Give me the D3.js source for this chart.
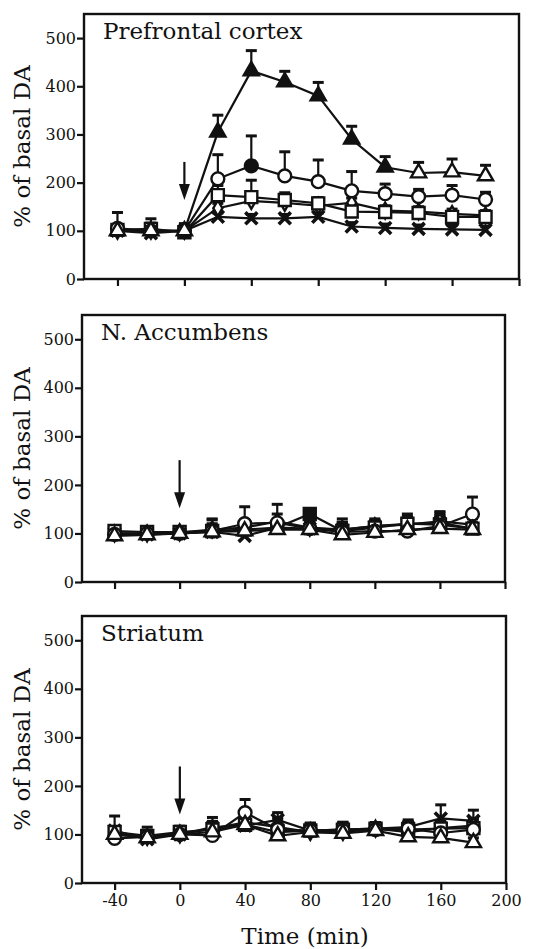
<!DOCTYPE html>
<html>
<head>
<meta charset="utf-8">
<script src="https://cdn.jsdelivr.net/npm/d3@7"></script>
<style>
  body { margin: 0; background: #fff; }
  svg text { font-family: "DejaVu Serif", serif; fill: #111; }
</style>
</head>
<body>
<script>
// sampling times (min) and axis ticks
var times = [-40, -20, 0, 20, 40, 60, 80, 100, 120, 140, 160, 180];
var yTicks = [0, 100, 200, 300, 400, 500];
var xTicks = [-40, 0, 40, 80, 120, 160, 200];
var regions = ["Prefrontal cortex", "N. Accumbens", "Striatum"];

// prefrontal cortex
var pfcTriangle    = [100, 100, 100, 305, 432, 409, 380, 290, 232, 220, 222, 214];
var pfcTriangleErr = [8, 8, 10, 35, 42, 22, 28, 27, 22, 22, 27, 22];
var pfcTriangleFilled = [20, 40, 60, 80, 100, 120];
var pfcCircle      = [105, 100, 100, 208, 235, 214, 202, 183, 177, 171, 174, 165];
var pfcCircleErr   = [33, 25, 15, 50, 62, 50, 45, 40, 20, 15, 20, 15];
var pfcCircleFilled = [40];
var pfcSquare      = [102, 104, 97, 174, 170, 164, 157, 140, 139, 137, 129, 129];
var pfcSquareErr   = [10, 12, 8, 20, 35, 15, 12, 12, 10, 10, 10, 10];
var pfcDiamond     = [100, 100, 100, 147, 162, 158, 152, 158, 142, 140, 135, 132];
var pfcDiamondErr  = [8, 8, 8, 10, 12, 12, 10, 10, 10, 10, 10, 10];
var pfcCross       = [100, 95, 100, 129, 126, 126, 129, 109, 106, 104, 103, 102];
var pfcCrossErr    = [5, 5, 5, 8, 8, 8, 8, 8, 8, 8, 8, 8];

// nucleus accumbens
var nacTriangle    = [95, 97, 100, 103, 105, 108, 108, 97, 102, 108, 110, 108];
var nacTriangleErr = [10, 10, 10, 15, 12, 12, 12, 15, 12, 12, 12, 10];
var nacCircle      = [98, 100, 100, 105, 120, 122, 110, 103, 105, 105, 115, 140];
var nacCircleErr   = [12, 10, 10, 15, 35, 38, 15, 20, 20, 25, 30, 35];
var nacSquare      = [105, 103, 103, 105, 108, 112, 140, 105, 112, 120, 118, 110];
var nacSquareErr   = [10, 10, 10, 25, 12, 12, 5, 25, 18, 20, 20, 12];
var nacSquareFilled = [80];
var nacDiamond     = [100, 100, 102, 108, 112, 125, 112, 108, 115, 118, 125, 118];
var nacDiamondErr  = [12, 12, 10, 20, 15, 15, 12, 15, 12, 15, 18, 12];
var nacCross       = [100, 98, 100, 103, 95, 112, 110, 108, 115, 120, 122, 110];
var nacCrossErr    = [10, 10, 10, 12, 10, 12, 12, 12, 12, 15, 15, 10];

// striatum
var strTriangle    = [100, 93, 100, 105, 120, 97, 105, 102, 108, 95, 93, 83];
var strTriangleErr = [12, 10, 10, 12, 12, 12, 12, 12, 12, 12, 12, 10];
var strCircle      = [92, 95, 100, 98, 145, 110, 108, 108, 110, 112, 103, 110];
var strCircleErr   = [15, 20, 12, 20, 27, 20, 15, 15, 12, 15, 20, 20];
var strSquare      = [105, 97, 105, 110, 120, 105, 108, 110, 112, 110, 112, 113];
var strSquareErr   = [10, 10, 12, 15, 12, 12, 15, 15, 12, 12, 12, 12];
var strDiamond     = [100, 95, 100, 112, 125, 115, 105, 105, 112, 105, 113, 118];
var strDiamondErr  = [12, 12, 12, 15, 12, 20, 15, 15, 12, 15, 15, 15];
var strCross       = [108, 90, 100, 115, 118, 130, 108, 110, 112, 115, 133, 128];
var strCrossErr    = [30, 15, 12, 20, 15, 15, 15, 15, 12, 15, 28, 22];

// injection arrow (value at tail, value at tip) per panel
var arrowTail = [243, 251, 240];
var arrowTip  = [164, 152, 141];

function series(shape, values, errs, filled) {
  return times.map(function (t, i) {
    return { t: t, v: values[i], e: errs[i], shape: shape,
             filled: (filled || []).indexOf(t) >= 0 };
  });
}

var panels = [
  { name: regions[0], box: { l: 84, r: 519, t: 14, b: 279 }, labels: false,
    series: [series("cross", pfcCross, pfcCrossErr),
             series("diamond", pfcDiamond, pfcDiamondErr),
             series("square", pfcSquare, pfcSquareErr),
             series("circle", pfcCircle, pfcCircleErr, pfcCircleFilled),
             series("triangle", pfcTriangle, pfcTriangleErr, pfcTriangleFilled)] },
  { name: regions[1], box: { l: 82, r: 505, t: 315, b: 582 }, labels: false,
    series: [series("cross", nacCross, nacCrossErr),
             series("diamond", nacDiamond, nacDiamondErr),
             series("square", nacSquare, nacSquareErr, nacSquareFilled),
             series("circle", nacCircle, nacCircleErr),
             series("triangle", nacTriangle, nacTriangleErr)] },
  { name: regions[2], box: { l: 82, r: 506, t: 616, b: 883 }, labels: true,
    series: [series("cross", strCross, strCrossErr),
             series("diamond", strDiamond, strDiamondErr),
             series("square", strSquare, strSquareErr),
             series("circle", strCircle, strCircleErr),
             series("triangle", strTriangle, strTriangleErr)] }
];

var svg = d3.select("body").append("svg")
  .attr("width", 536).attr("height", 949);

var symbols = {
  circle: d3.symbol().type(d3.symbolCircle).size(130),
  square: d3.symbol().type(d3.symbolSquare).size(144),
  triangle: d3.symbol().type(d3.symbolTriangle).size(100),
  diamond: d3.symbol().type(d3.symbolDiamond).size(72)
};

panels.forEach(function (p, pi) {
  var b = p.box;
  var x = d3.scaleLinear().domain([-60, 200]).range([b.l, b.r]);
  var y = d3.scaleLinear().domain([0, 550]).range([b.b, b.t]);
  var g = svg.append("g");

  // axes
  var yAxis = g.append("g").attr("transform", "translate(" + b.l + ",0)")
    .call(d3.axisLeft(y).tickValues(yTicks).tickSize(7).tickPadding(1));
  var xAxis = g.append("g").attr("transform", "translate(0," + b.b + ")")
    .call(d3.axisBottom(x).tickValues(xTicks).tickSize(7).tickPadding(5)
      .tickFormat(function (d) { return p.labels ? String(d) : ""; }));
  [yAxis, xAxis].forEach(function (a) {
    a.select(".domain").remove();
    a.selectAll("line").attr("stroke", "#111").attr("stroke-width", 2.2);
    a.selectAll("text").style("font-size", "16px").attr("fill", "#111");
  });

  g.append("rect")
    .attr("x", b.l).attr("y", b.t)
    .attr("width", b.r - b.l).attr("height", b.b - b.t)
    .attr("fill", "none").attr("stroke", "#111").attr("stroke-width", 2.4);

  g.append("text")
    .attr("x", b.l + 19).attr("y", b.t + 25)
    .style("font-size", "23px")
    .text(p.name);

  g.append("text")
    .attr("transform", "translate(30," + ((b.t + b.b) / 2) + ") rotate(-90)")
    .attr("text-anchor", "middle")
    .style("font-size", "23px")
    .text("% of basal DA");

  // arrow at time 0
  var ax = x(0), ya = y(arrowTail[pi]), yt = y(arrowTip[pi]);
  g.append("line").attr("x1", ax).attr("x2", ax)
    .attr("y1", ya).attr("y2", yt - 10)
    .attr("stroke", "#111").attr("stroke-width", 2.2);
  g.append("path")
    .attr("d", "M" + (ax - 5.5) + "," + (yt - 16) + "L" + (ax + 5.5) + "," + (yt - 16) + "L" + ax + "," + yt + "Z")
    .attr("fill", "#111");

  var line = d3.line().x(function (d) { return x(d.t); }).y(function (d) { return y(d.v); });

  // error bars
  p.series.forEach(function (s) {
    var eb = g.append("g").selectAll("g").data(s).enter().append("g");
    eb.append("line")
      .attr("x1", function (d) { return x(d.t); }).attr("x2", function (d) { return x(d.t); })
      .attr("y1", function (d) { return y(d.v); }).attr("y2", function (d) { return y(d.v + d.e); })
      .attr("stroke", "#111").attr("stroke-width", 2.2);
    eb.append("line")
      .attr("x1", function (d) { return x(d.t) - 5.5; }).attr("x2", function (d) { return x(d.t) + 5.5; })
      .attr("y1", function (d) { return y(d.v + d.e); }).attr("y2", function (d) { return y(d.v + d.e); })
      .attr("stroke", "#111").attr("stroke-width", 3);
  });

  // lines
  p.series.forEach(function (s) {
    g.append("path").datum(s).attr("d", line)
      .attr("fill", "none").attr("stroke", "#111").attr("stroke-width", 2.2);
  });

  // markers
  p.series.forEach(function (s) {
    var m = g.append("g").selectAll("path").data(s).enter().append("path")
      .attr("transform", function (d) { return "translate(" + x(d.t) + "," + y(d.v) + ")"; });
    if (s[0].shape === "cross") {
      m.attr("d", "M-6,-6L6,6M-6,6L6,-6")
        .attr("fill", "none").attr("stroke", "#111").attr("stroke-width", 3.6);
    } else {
      m.attr("d", symbols[s[0].shape])
        .attr("fill", function (d) { return d.filled ? "#111" : "#fff"; })
        .attr("stroke", "#111").attr("stroke-width", 2.4);
    }
  });

  if (p.labels) {
    g.append("text")
      .attr("x", 305).attr("y", 944)
      .attr("text-anchor", "middle")
      .style("font-size", "23px")
      .text("Time (min)");
  }
});
</script>
</body>
</html>
